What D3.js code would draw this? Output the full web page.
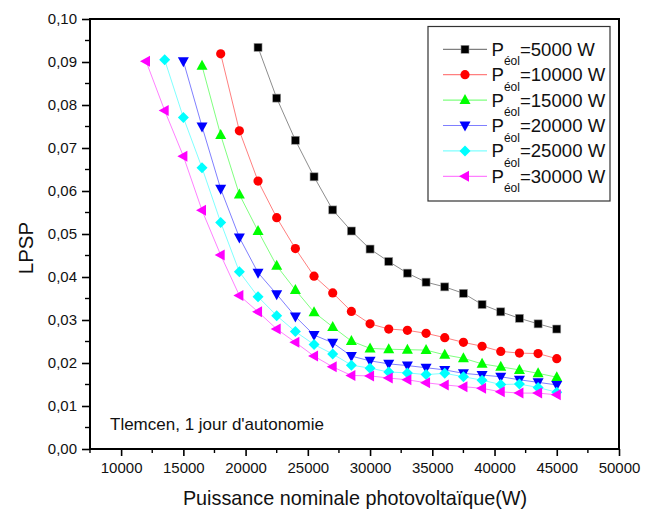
<!DOCTYPE html>
<html>
<head>
<meta charset="utf-8">
<script src="https://cdn.jsdelivr.net/npm/d3@7"></script>
<style>
  html, body { margin: 0; padding: 0; background: #fff; }
  svg { display: block; font-family: Arial, "Liberation Sans", sans-serif; }
</style>
</head>
<body>
<svg id="chart" width="657" height="518"></svg>
<script>
// Nominal PV power (W) at which the LPSP was computed
const pvPower = [12000, 13500, 15000, 16500, 18000, 19500, 21000, 22500, 24000, 25500,
                 27000, 28500, 30000, 31500, 33000, 34500, 36000, 37500, 39000, 40500,
                 42000, 43500, 45000];

// LPSP for each wind-turbine power (null where the case was not simulated)
const lpsp5000 = [null, null, null, null, null, null,
  0.0934, 0.0816, 0.0718, 0.0633, 0.0556, 0.0507, 0.0465, 0.0436, 0.0409, 0.0388,
  0.0377, 0.0362, 0.0336, 0.0319, 0.0304, 0.0291, 0.0279];
const lpsp10000 = [null, null, null, null,
  0.0919, 0.0740, 0.0623, 0.0538, 0.0466, 0.0402, 0.0363, 0.0320, 0.0291, 0.0279,
  0.0276, 0.0269, 0.0259, 0.0248, 0.0239, 0.0227, 0.0223, 0.0222, 0.0210];
const lpsp15000 = [null, null, null,
  0.0891, 0.0730, 0.0592, 0.0507, 0.0426, 0.0370, 0.0318, 0.0284, 0.0251, 0.0234,
  0.0232, 0.0231, 0.0230, 0.0219, 0.0211, 0.0198, 0.0191, 0.0184, 0.0176, 0.0167];
const lpsp20000 = [null, null,
  0.0902, 0.0750, 0.0605, 0.0492, 0.0410, 0.0360, 0.0308, 0.0265, 0.0247, 0.0216,
  0.0205, 0.0198, 0.0194, 0.0189, 0.0184, 0.0176, 0.0172, 0.0168, 0.0161, 0.0155, 0.0149];
const lpsp25000 = [null,
  0.0905, 0.0771, 0.0654, 0.0527, 0.0412, 0.0354, 0.0310, 0.0273, 0.0243, 0.0221,
  0.0195, 0.0188, 0.0179, 0.0177, 0.0173, 0.0176, 0.0168, 0.0160, 0.0150, 0.0151,
  0.0143, 0.0132];
const lpsp30000 = [
  0.0902, 0.0787, 0.0681, 0.0555, 0.0451, 0.0357, 0.0319, 0.0279, 0.0248, 0.0216,
  0.0191, 0.0171, 0.0170, 0.0165, 0.0161, 0.0154, 0.0149, 0.0145, 0.0141, 0.0133,
  0.0130, 0.0130, 0.0126];

const windPower = ["5000", "10000", "15000", "20000", "25000", "30000"];
const seriesValues = [lpsp5000, lpsp10000, lpsp15000, lpsp20000, lpsp25000, lpsp30000];
const seriesColors = ["#000000", "#ff0000", "#00ff00", "#0000ff", "#00ffff", "#ff00ff"];
const seriesShapes = ["square", "circle", "triangleUp", "triangleDown", "diamond", "triangleLeft"];

const xTicks = [10000, 15000, 20000, 25000, 30000, 35000, 40000, 45000, 50000];
const yTicks = [0, 0.01, 0.02, 0.03, 0.04, 0.05, 0.06, 0.07, 0.08, 0.09, 0.10];

const xLabel = "Puissance nominale photovoltaïque(W)";
const yLabel = "LPSP";
const note = "Tlemcen, 1 jour d'autonomie";

// ---- layout ----
const svg = d3.select("#chart");
const plot = { left: 90, right: 619, top: 19, bottom: 449 };

const x = d3.scaleLinear().domain([7500, 50000]).range([plot.left, plot.right]);
const y = d3.scaleLinear().domain([0, 0.10]).range([plot.bottom, plot.top]);

const fmtY = v => d3.format(".2f")(v).replace(".", ",");

// minor ticks
const xMinor = d3.range(7500, 50001, 2500).filter(v => !xTicks.includes(v));
const yMinor = d3.range(0.005, 0.1, 0.01);

// bottom axis
const xAxis = d3.axisBottom(x).tickValues(xTicks).tickFormat(d3.format("d"))
  .tickSizeInner(7).tickSizeOuter(0).tickPadding(6);
const gx = svg.append("g").attr("transform", `translate(0,${plot.bottom})`).call(xAxis);
gx.selectAll(".tick line").attr("stroke", "#000").attr("stroke-width", 1.6);
gx.selectAll(".tick text").attr("font-size", 15).attr("fill", "#111")
  .attr("font-family", "Arial, 'Liberation Sans', sans-serif");
gx.select(".domain").remove();
svg.append("g").selectAll("line").data(xMinor).join("line")
  .attr("x1", d => x(d)).attr("x2", d => x(d))
  .attr("y1", plot.bottom).attr("y2", plot.bottom + 4)
  .attr("stroke", "#000").attr("stroke-width", 1.4);

// left axis
const yAxis = d3.axisLeft(y).tickValues(yTicks).tickFormat(fmtY)
  .tickSizeInner(8).tickSizeOuter(0).tickPadding(5);
const gy = svg.append("g").attr("transform", `translate(${plot.left},0)`).call(yAxis);
gy.selectAll(".tick line").attr("stroke", "#000").attr("stroke-width", 1.6);
gy.selectAll(".tick text").attr("font-size", 15).attr("fill", "#111")
  .attr("font-family", "Arial, 'Liberation Sans', sans-serif");
gy.select(".domain").remove();
svg.append("g").selectAll("line").data(yMinor).join("line")
  .attr("x1", plot.left - 5).attr("x2", plot.left)
  .attr("y1", d => y(d)).attr("y2", d => y(d))
  .attr("stroke", "#000").attr("stroke-width", 1.4);

// frame
svg.append("rect")
  .attr("x", plot.left).attr("y", plot.top)
  .attr("width", plot.right - plot.left).attr("height", plot.bottom - plot.top)
  .attr("fill", "none").attr("stroke", "#000").attr("stroke-width", 2);

// axis titles
svg.append("text")
  .attr("x", 355).attr("y", 505)
  .attr("text-anchor", "middle").attr("font-size", 19.8).attr("fill", "#111")
  .text(xLabel);
svg.append("text")
  .attr("transform", `translate(33,248) rotate(-90)`)
  .attr("text-anchor", "middle").attr("font-size", 20.5).attr("fill", "#111")
  .text(yLabel);

// annotation
svg.append("text")
  .attr("x", 110).attr("y", 430)
  .attr("font-size", 17).attr("fill", "#111")
  .text(note);

// ---- markers ----
function marker(sel, shape, color) {
  const r = 5;
  if (shape === "circle") {
    sel.append("circle").attr("r", 4.6).attr("fill", color);
  } else if (shape === "square") {
    sel.append("rect").attr("x", -4).attr("y", -4).attr("width", 8).attr("height", 8)
      .attr("fill", color).attr("stroke", "#999").attr("stroke-width", 0.6);
  } else {
    let pts;
    if (shape === "triangleUp") pts = [[0, -r - 1], [r + 0.5, r - 1], [-r - 0.5, r - 1]];
    else if (shape === "triangleDown") pts = [[0, r + 1], [r + 0.5, -r + 1], [-r - 0.5, -r + 1]];
    else if (shape === "triangleLeft") pts = [[-r - 1, 0], [r - 1, -r - 0.5], [r - 1, r + 0.5]];
    else pts = [[0, -r - 0.5], [r + 0.5, 0], [0, r + 0.5], [-r - 0.5, 0]];
    sel.append("path").attr("d", d3.line()(pts) + "Z").attr("fill", color);
  }
}

const lineGen = d3.line()
  .defined(d => d.v !== null)
  .x(d => x(d.p)).y(d => y(d.v));

seriesValues.forEach((vals, i) => {
  const pts = pvPower.map((p, k) => ({ p, v: vals[k] }));
  const g = svg.append("g");
  g.append("path").datum(pts)
    .attr("d", lineGen)
    .attr("fill", "none")
    .attr("stroke", seriesColors[i])
    .attr("stroke-opacity", i === 0 ? 0.45 : 0.5)
    .attr("stroke-width", 1);
  g.selectAll("g.pt").data(pts.filter(d => d.v !== null)).join("g")
    .attr("class", "pt")
    .attr("transform", d => `translate(${x(d.p)},${y(d.v)})`)
    .each(function () { marker(d3.select(this), seriesShapes[i], seriesColors[i]); });
});

// ---- legend ----
const legend = svg.append("g");
legend.append("rect")
  .attr("x", 428).attr("y", 26.5).attr("width", 182).attr("height", 174.5)
  .attr("fill", "#fff").attr("stroke", "#333").attr("stroke-width", 1.2);

windPower.forEach((w, i) => {
  const cy = 49.3 + i * 25.4;
  const row = legend.append("g");
  row.append("line")
    .attr("x1", 443).attr("x2", 487).attr("y1", cy).attr("y2", cy)
    .attr("stroke", seriesColors[i]).attr("stroke-opacity", 0.5).attr("stroke-width", 1.2);
  const m = row.append("g").attr("transform", `translate(465,${cy})`);
  marker(m, seriesShapes[i], seriesColors[i]);
  const t = row.append("text")
    .attr("x", 491.5).attr("y", cy + 6.5)
    .attr("font-size", 18.6).attr("fill", "#111");
  t.append("tspan").text("P");
  t.append("tspan").attr("dy", 9.5).attr("font-size", 12).text("éol");
  t.append("tspan").attr("dy", -9.5).text(`=${w} W`);
});
</script>
</body>
</html>
